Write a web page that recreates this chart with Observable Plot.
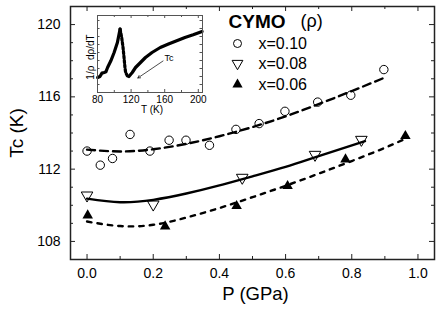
<!DOCTYPE html>
<html><head><meta charset="utf-8">
<script src="https://cdn.jsdelivr.net/npm/d3@7"></script>
<script src="https://cdn.jsdelivr.net/npm/@observablehq/plot@0.6"></script>
<style>
body{margin:0;background:#fff;}
#chart{position:relative;width:443px;height:309px;}
#chart svg{position:absolute;left:0;top:0;}
</style></head><body><div id="chart"></div>
<script>
// ---- main data ----
const P010  = [0, 0.04, 0.077, 0.13, 0.19, 0.248, 0.299, 0.37, 0.45, 0.52, 0.598, 0.697, 0.797, 0.897];
const Tc010 = [113.0, 112.22, 112.59, 113.92, 113.0, 113.6, 113.6, 113.32, 114.2, 114.52, 115.2, 115.71, 116.09, 117.51];
const P008  = [0, 0.2, 0.469, 0.689, 0.829];
const Tc008 = [110.55, 110.05, 111.53, 112.8, 113.63];
const P006  = [0.002, 0.236, 0.452, 0.606, 0.781, 0.962];
const Tc006 = [109.44, 108.83, 109.96, 111.07, 112.54, 113.83];

// fitted curves
const fitP010  = [0, 0.1, 0.2, 0.3, 0.4, 0.5, 0.6, 0.7, 0.8, 0.9];
const fitTc010 = [113.08, 112.98, 113.1, 113.4, 113.82, 114.33, 114.92, 115.6, 116.32, 117.07];
const fitP008  = [0, 0.1, 0.2, 0.3, 0.4, 0.5, 0.6, 0.7, 0.84];
const fitTc008 = [110.37, 110.17, 110.3, 110.65, 111.1, 111.6, 112.12, 112.72, 113.55];
const fitP006  = [0, 0.1, 0.2, 0.3, 0.4, 0.5, 0.6, 0.7, 0.8, 0.9, 0.97];
const fitTc006 = [109.1, 108.85, 108.92, 109.32, 109.85, 110.45, 111.08, 111.75, 112.45, 113.18, 113.75];

// axis ticks
const xMajor = [0, 0.2, 0.4, 0.6, 0.8, 1.0];
const xMinor = [0.1, 0.3, 0.5, 0.7, 0.9];
const yMajor = [108, 112, 116, 120];
const yMinor = [109, 110, 111, 113, 114, 115, 117, 118, 119];

// legend
const legendTitle = "CYMO";
const legendTitle2 = "(ρ)";
const seriesNames = ["x=0.10", "x=0.08", "x=0.06"];

// ---- inset data (y in arbitrary units) ----
const insetT1 = [80.2, 82.9, 85.3, 88.0, 90.0, 92.0, 95.9, 99.8, 103.7, 105.7, 106.9];
const insetV1 = [15.0, 16.0, 19.4, 20.0, 20.7, 25.0, 31.7, 40.0, 50.0, 58.4, 63.4];
const insetT2 = [106.9, 108.8, 110.4, 111.6, 112.7, 113.5, 115.5, 117.4];
const insetV2 = [63.4, 55.0, 45.0, 35.0, 25.0, 20.0, 16.7, 16.0];
const insetT3 = [117.4, 121.4, 125.3, 131.2, 137.1, 144.9, 154.7, 164.5, 174.3, 184.1, 193.9, 204.5];
const insetV3 = [16.0, 20.0, 25.0, 30.0, 35.0, 40.0, 45.0, 48.4, 51.7, 55.0, 57.7, 61.0];
const insetXTicks = [80, 120, 160, 200];
const insetXMinor = [100, 140, 180];
const insetYTicks = [8, 16, 24, 32, 40, 48, 56, 64, 72];
const arrowFrom = {T: 158, v: 31.5};
const arrowTo = {T: 128, v: 14.5};

const font = "'Liberation Sans', Arial, Helvetica, sans-serif";
const zip = (a, b) => a.map((d, i) => ({P: d, Tc: b[i]}));

const W = 443, H = 309, mL = 70, mR = 9, mT = 6, mB = 50;
const fw = W - mL - mR, fh = H - mT - mB;

const main = Plot.plot({
  width: W, height: H,
  marginLeft: mL, marginRight: mR, marginTop: mT, marginBottom: mB,
  style: {fontFamily: font, background: "transparent", color: "black"},
  x: {domain: [-0.05, 1.05]},
  y: {domain: [107, 121]},
  marks: [
    // ticks inward on all sides
    Plot.tickX(xMajor, {x: d => d, insetTop: fh - 5, stroke: "#222"}),
    Plot.tickX(xMinor, {x: d => d, insetTop: fh - 3, stroke: "#222"}),
    Plot.tickX(xMajor, {x: d => d, insetBottom: fh - 5, stroke: "#222"}),
    Plot.tickX(xMinor, {x: d => d, insetBottom: fh - 3, stroke: "#222"}),
    Plot.tickY(yMajor, {y: d => d, insetRight: fw - 5, stroke: "#222"}),
    Plot.tickY(yMinor, {y: d => d, insetRight: fw - 3, stroke: "#222"}),
    Plot.tickY(yMajor, {y: d => d, insetLeft: fw - 5, stroke: "#222"}),
    Plot.tickY(yMinor, {y: d => d, insetLeft: fw - 3, stroke: "#222"}),
    Plot.axisX(xMajor, {tickSize: 0, tickPadding: 9, tickFormat: d => d.toFixed(1), fontSize: 14, label: null}),
    Plot.axisY(yMajor, {tickSize: 0, tickPadding: 10, fontSize: 14, label: null}),
    Plot.text(["P (GPa)"], {frameAnchor: "bottom", dy: 35, dx: 3, fontSize: 18.5, lineAnchor: "middle", textAnchor: "middle"}),
    Plot.text(["Tc (K)"], {frameAnchor: "left", rotate: -90, dx: -54, fontSize: 19, textAnchor: "middle", lineAnchor: "middle"}),
    // fitted curves
    Plot.line(zip(fitP010, fitTc010), {x: "P", y: "Tc", curve: "natural", stroke: "black", strokeWidth: 2.4, strokeDasharray: "8,5"}),
    Plot.line(zip(fitP008, fitTc008), {x: "P", y: "Tc", curve: "natural", stroke: "black", strokeWidth: 2.4}),
    Plot.line(zip(fitP006, fitTc006), {x: "P", y: "Tc", curve: "natural", stroke: "black", strokeWidth: 2.4, strokeDasharray: "4.5,6"}),
    // data
    Plot.dot(zip(P010, Tc010), {x: "P", y: "Tc", r: 4.2, stroke: "black", fill: "none", strokeWidth: 1}),
    Plot.dot(zip(P008, Tc008), {x: "P", y: "Tc", r: 4.3, symbol: "triangle", rotate: 180, stroke: "black", fill: "none", strokeWidth: 1}),
    Plot.dot(zip(P006, Tc006), {x: "P", y: "Tc", r: 3.9, symbol: "triangle", fill: "black", stroke: "none"}),
    // legend
    Plot.text([legendTitle], {frameAnchor: "top-left", dx: 158, dy: 15, textAnchor: "start", lineAnchor: "middle", fontSize: 19, fontWeight: "bold"}),
    Plot.text([legendTitle2], {frameAnchor: "top-left", dx: 230, dy: 15, textAnchor: "start", lineAnchor: "middle", fontSize: 18}),
    Plot.dot([0], {frameAnchor: "top-left", dx: 167, dy: 37, r: 4, stroke: "black", fill: "none", strokeWidth: 1}),
    Plot.dot([0], {frameAnchor: "top-left", dx: 167, dy: 57, r: 4, symbol: "triangle", rotate: 180, stroke: "black", fill: "none", strokeWidth: 1}),
    Plot.dot([0], {frameAnchor: "top-left", dx: 167, dy: 78, r: 3.8, symbol: "triangle", fill: "black"}),
    Plot.text([seriesNames[0]], {frameAnchor: "top-left", dx: 188, dy: 37, textAnchor: "start", lineAnchor: "middle", fontSize: 16}),
    Plot.text([seriesNames[1]], {frameAnchor: "top-left", dx: 188, dy: 57, textAnchor: "start", lineAnchor: "middle", fontSize: 16}),
    Plot.text([seriesNames[2]], {frameAnchor: "top-left", dx: 188, dy: 78, textAnchor: "start", lineAnchor: "middle", fontSize: 16}),
    Plot.frame({stroke: "#222", strokeWidth: 1.5})
  ]
});

// inset
const iL = 80, iT = 10, iW = 130, iH = 110;
const imL = 17, imR = 8, imT = 5, imB = 28;
const ifw = iW - imL - imR, ifh = iH - imT - imB;
const zipI = (a, b) => a.map((d, i) => ({T: d, v: b[i]}));
const inset = Plot.plot({
  width: iW, height: iH,
  marginLeft: imL, marginRight: imR, marginTop: imT, marginBottom: imB,
  style: {fontFamily: font, background: "transparent", color: "black", overflow: "visible"},
  x: {domain: [80, 205]},
  y: {domain: [0, 77], axis: null},
  marks: [
    Plot.tickX(insetXTicks, {x: d => d, insetTop: ifh - 3, stroke: "#555"}),
    Plot.tickX(insetXMinor, {x: d => d, insetTop: ifh - 2, stroke: "#555"}),
    Plot.tickX(insetXTicks, {x: d => d, insetBottom: ifh - 3, stroke: "#555"}),
    Plot.tickX(insetXMinor, {x: d => d, insetBottom: ifh - 2, stroke: "#555"}),
    Plot.tickY(insetYTicks, {y: d => d, insetRight: ifw - 2.5, stroke: "#555"}),
    Plot.tickY(insetYTicks, {y: d => d, insetLeft: ifw - 2.5, stroke: "#555"}),
    Plot.axisX(insetXTicks, {tickSize: 0, tickPadding: 3, fontSize: 10, label: null}),
    Plot.text(["T (K)"], {frameAnchor: "bottom", dy: 17, dx: 2, fontSize: 10, lineAnchor: "middle", textAnchor: "middle"}),
    Plot.text(["1/ρ  dρ/dT"], {frameAnchor: "left", rotate: -90, dx: -7, dy: 3, fontSize: 10, textAnchor: "middle", lineAnchor: "middle"}),
    Plot.line(zipI(insetT1, insetV1), {x: "T", y: "v", stroke: "black", strokeWidth: 3.2}),
    Plot.line(zipI(insetT2, insetV2), {x: "T", y: "v", stroke: "black", strokeWidth: 3.2, strokeDasharray: "2.5,2"}),
    Plot.line(zipI(insetT3, insetV3), {x: "T", y: "v", stroke: "black", strokeWidth: 3.2}),
    Plot.arrow([0], {x1: () => arrowFrom.T, y1: () => arrowFrom.v, x2: () => arrowTo.T, y2: () => arrowTo.v, stroke: "black", strokeWidth: 0.7, headLength: 6, insetStart: 0, insetEnd: 0}),
    Plot.text(["Tc"], {x: () => arrowFrom.T + 7, y: () => arrowFrom.v + 3, fontSize: 9}),
    Plot.frame({stroke: "#555", strokeWidth: 1})
  ]
});
inset.style.left = iL + "px";
inset.style.top = iT + "px";

const c = document.getElementById("chart");
c.appendChild(main);
c.appendChild(inset);
</script>
</body></html>
